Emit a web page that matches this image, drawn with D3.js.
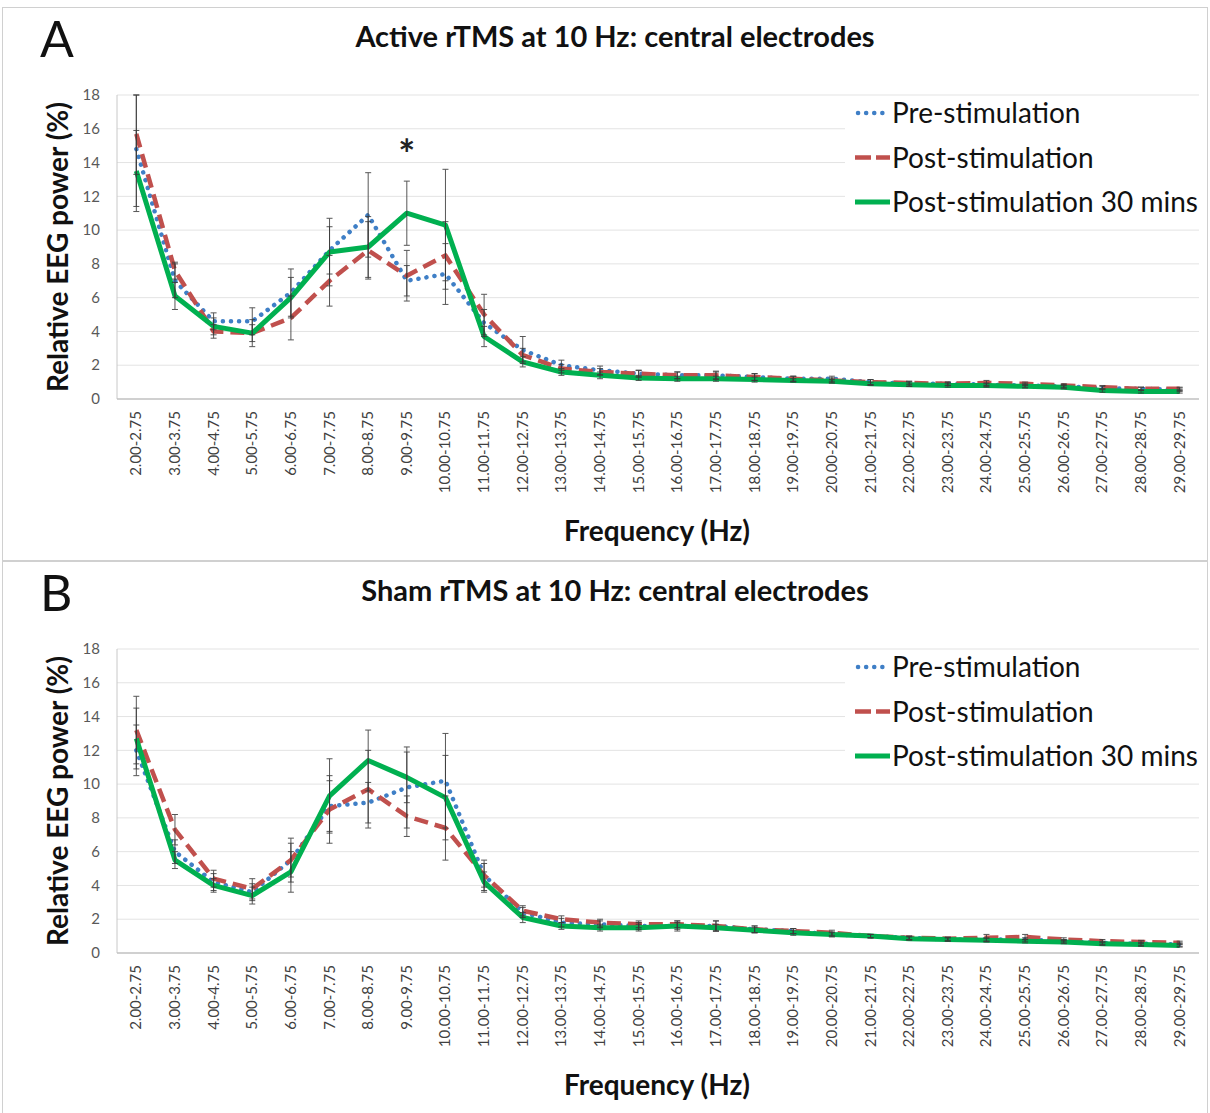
<!DOCTYPE html>
<html>
<head>
<meta charset="utf-8">
<script src="https://cdn.jsdelivr.net/npm/d3@7"></script>
<style>
  body { margin: 0; background: #fff; }
  svg { display: block; font-family: Lato, "Open Sans", sans-serif; }
</style>
</head>
<body>
<svg id="chart" width="1210" height="1113"></svg>
<script>
// frequency bins (x categories)
const bins = ["2.00-2.75","3.00-3.75","4.00-4.75","5.00-5.75","6.00-6.75","7.00-7.75","8.00-8.75",
  "9.00-9.75","10.00-10.75","11.00-11.75","12.00-12.75","13.00-13.75","14.00-14.75","15.00-15.75",
  "16.00-16.75","17.00-17.75","18.00-18.75","19.00-19.75","20.00-20.75","21.00-21.75","22.00-22.75",
  "23.00-23.75","24.00-24.75","25.00-25.75","26.00-26.75","27.00-27.75","28.00-28.75","29.00-29.75"];
const yTicks = [0,2,4,6,8,10,12,14,16,18];
const seriesNames = ["Pre-stimulation","Post-stimulation","Post-stimulation 30 mins"];

// panel A: active rTMS
const activePre    = [14.8,7.0,4.6,4.6,6.3,8.8,10.9,7.0,7.4,4.5,2.9,2.0,1.7,1.5,1.4,1.4,1.3,1.2,1.2,1.0,0.9,0.9,0.85,0.8,0.75,0.65,0.6,0.55];
const activePost   = [15.7,7.6,4.0,3.9,4.8,7.0,8.8,7.3,8.5,5.0,2.6,1.8,1.6,1.5,1.4,1.4,1.3,1.2,1.1,1.0,0.95,0.9,0.95,0.9,0.8,0.7,0.6,0.6];
const activePost30 = [13.5,6.1,4.3,3.9,6.0,8.7,9.0,11.0,10.3,3.7,2.2,1.6,1.4,1.25,1.2,1.2,1.15,1.1,1.05,0.9,0.85,0.8,0.8,0.75,0.7,0.5,0.45,0.45];
const activePreErr    = [3.4,1.0,0.5,0.8,1.4,1.4,2.5,0.9,1.8,0.8,0.8,0.3,0.25,0.2,0.2,0.2,0.2,0.15,0.15,0.15,0.15,0.1,0.1,0.1,0.1,0.1,0.1,0.1];
const activePostErr   = [2.4,0.5,0.4,0.8,1.3,1.5,1.7,1.5,2.0,1.2,0.4,0.25,0.2,0.2,0.2,0.25,0.2,0.15,0.15,0.15,0.1,0.1,0.15,0.1,0.1,0.1,0.1,0.1];
const activePost30Err = [2.4,0.8,0.5,0.5,1.2,2.0,1.8,1.9,3.3,0.6,0.3,0.2,0.2,0.15,0.15,0.15,0.15,0.1,0.1,0.1,0.1,0.1,0.1,0.1,0.1,0.1,0.1,0.1];

// panel B: sham rTMS
const shamPre    = [12.0,6.0,4.2,3.6,5.5,8.7,8.9,9.8,10.2,4.6,2.4,1.8,1.7,1.6,1.6,1.6,1.4,1.3,1.1,1.0,0.9,0.8,0.8,0.8,0.7,0.6,0.55,0.5];
const shamPost   = [13.2,7.3,4.4,3.8,5.5,8.5,9.7,8.1,7.4,4.6,2.5,2.0,1.8,1.7,1.7,1.6,1.4,1.3,1.2,1.0,0.9,0.85,0.9,0.95,0.8,0.7,0.65,0.6];
const shamPost30 = [12.7,5.5,4.0,3.4,4.8,9.3,11.4,10.4,9.2,4.2,2.1,1.6,1.5,1.5,1.6,1.5,1.35,1.2,1.1,1.0,0.85,0.8,0.75,0.7,0.65,0.55,0.5,0.45];
const shamPreErr    = [1.5,0.7,0.5,0.5,1.3,1.5,1.2,2.4,2.8,0.7,0.3,0.25,0.2,0.2,0.3,0.3,0.2,0.15,0.15,0.1,0.1,0.1,0.1,0.1,0.1,0.1,0.1,0.1];
const shamPostErr   = [2.0,0.9,0.5,0.6,1.0,2.0,2.3,1.2,1.9,0.9,0.3,0.2,0.2,0.2,0.2,0.3,0.2,0.15,0.15,0.1,0.1,0.1,0.2,0.15,0.1,0.1,0.1,0.1];
const shamPost30Err = [1.8,0.5,0.4,0.5,1.2,2.2,1.8,1.5,2.5,0.6,0.3,0.2,0.2,0.2,0.2,0.2,0.15,0.15,0.1,0.1,0.1,0.1,0.1,0.1,0.1,0.1,0.1,0.1];

const colors = ["#3f7fc6", "#c0504d", "#00b050"];
const dashes = ["0.1 8", "14 7", null];
const widths = [4.5, 4.5, 5];

const svg = d3.select("#chart");

function drawPanel(off, letter, title, vals, errs, star) {
  const g = svg.append("g").attr("transform", "translate(0," + off + ")");
  const top = 95, bottom = 399, left = 117, right = 1199;

  g.append("rect").attr("x", 2.5).attr("y", 7.5).attr("width", 1205).attr("height", 553)
    .attr("fill", "none").attr("stroke", "#d0d0d0");

  const x = d3.scalePoint().domain(bins).range([left, right]).padding(0.5);
  const y = d3.scaleLinear().domain([0, 18]).range([bottom, top]);

  // gridlines
  g.append("g").selectAll("line").data(yTicks.slice(1)).enter().append("line")
    .attr("x1", left).attr("x2", right)
    .attr("y1", d => y(d)).attr("y2", d => y(d))
    .attr("stroke", "#e3e3e3");

  g.append("line").attr("x1", left).attr("x2", left).attr("y1", top).attr("y2", bottom)
    .attr("stroke", "#c8c8c8");
  g.append("line").attr("x1", left).attr("x2", right).attr("y1", bottom).attr("y2", bottom)
    .attr("stroke", "#c0c0c0").attr("stroke-width", 1.5);

  // y tick labels
  g.append("g").selectAll("text").data(yTicks).enter().append("text")
    .attr("x", 100).attr("y", d => y(d)).attr("dy", "0.35em")
    .attr("text-anchor", "end").attr("font-size", 15).attr("fill", "#595959")
    .text(d => d);

  // x tick labels
  g.append("g").selectAll("text").data(bins).enter().append("text")
    .attr("transform", d => "translate(" + (x(d) + 5) + "," + (bottom + 12) + ") rotate(-90)")
    .attr("text-anchor", "end").attr("font-size", 15).attr("fill", "#404040")
    .text(d => d);

  const line = d3.line().x((d, i) => x(bins[i])).y(d => y(d));

  vals.forEach((v, s) => {
    g.append("path").datum(v)
      .attr("d", line)
      .attr("fill", "none")
      .attr("stroke", colors[s])
      .attr("stroke-width", widths[s])
      .attr("stroke-dasharray", dashes[s])
      .attr("stroke-linecap", s === 0 ? "round" : "butt")
      .attr("stroke-linejoin", "round");
  });

  // error bars
  vals.forEach((v, s) => {
    const eb = g.append("g").attr("stroke", "#3a3a3a").attr("stroke-width", 1).attr("opacity", 0.85);
    v.forEach((d, i) => {
      const cx = x(bins[i]);
      const hi = y(Math.min(18, d + errs[s][i])), lo = y(Math.max(0, d - errs[s][i]));
      eb.append("line").attr("x1", cx).attr("x2", cx).attr("y1", hi).attr("y2", lo);
      eb.append("line").attr("x1", cx - 3).attr("x2", cx + 3).attr("y1", hi).attr("y2", hi);
      eb.append("line").attr("x1", cx - 3).attr("x2", cx + 3).attr("y1", lo).attr("y2", lo);
    });
  });

  if (star) {
    g.append("text").attr("x", x(star)).attr("y", 169).attr("text-anchor", "middle")
      .attr("font-size", 40).attr("font-weight", "bold").attr("fill", "#222").text("*");
  }

  // legend
  const lg = g.append("g");
  lg.append("rect").attr("x", 845).attr("y", 96).attr("width", 360).attr("height", 124).attr("fill", "#fff");
  seriesNames.forEach((name, s) => {
    const ly = 113 + s * 44.5;
    lg.append("line").attr("x1", s === 0 ? 858 : 855).attr("x2", 890).attr("y1", ly).attr("y2", ly)
      .attr("stroke", colors[s]).attr("stroke-width", widths[s])
      .attr("stroke-dasharray", s === 1 ? "16 5" : dashes[s])
      .attr("stroke-linecap", s === 0 ? "round" : "butt");
    lg.append("text").attr("x", 892).attr("y", ly).attr("dy", "0.36em")
      .attr("font-size", 28).attr("fill", "#111").text(name);
  });

  // titles
  g.append("text").attr("x", 40).attr("y", 57).attr("font-size", 50)
    .attr("fill", "#111").text(letter);
  g.append("text").attr("x", 615).attr("y", 47).attr("text-anchor", "middle")
    .attr("font-size", 29).attr("font-weight", "bold").attr("fill", "#111").text(title);
  g.append("text").attr("transform", "translate(68," + ((top + bottom) / 2) + ") rotate(-90)")
    .attr("text-anchor", "middle").attr("font-size", 28).attr("font-weight", "bold")
    .attr("fill", "#111").text("Relative EEG power (%)");
  g.append("text").attr("x", 657).attr("y", 541).attr("text-anchor", "middle")
    .attr("font-size", 28).attr("font-weight", "bold").attr("fill", "#111").text("Frequency (Hz)");
}

drawPanel(0, "A", "Active rTMS at 10 Hz: central electrodes",
  [activePre, activePost, activePost30], [activePreErr, activePostErr, activePost30Err], "9.00-9.75");
drawPanel(554, "B", "Sham rTMS at 10 Hz: central electrodes",
  [shamPre, shamPost, shamPost30], [shamPreErr, shamPostErr, shamPost30Err], null);
</script>
</body>
</html>
